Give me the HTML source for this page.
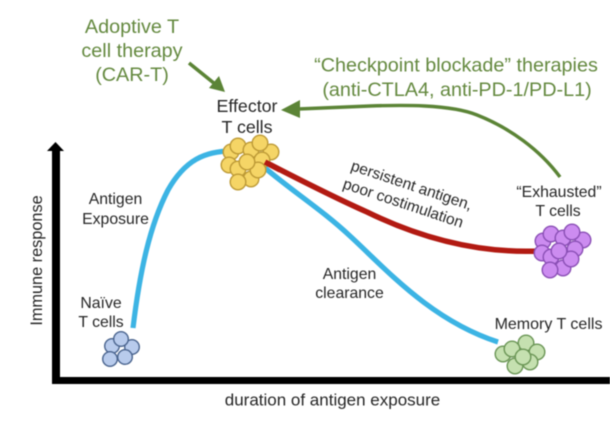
<!DOCTYPE html>
<html>
<head>
<meta charset="utf-8">
<style>
html,body{margin:0;padding:0;background:#fff;width:610px;height:437px;overflow:hidden}
svg{display:block;filter:blur(0.45px)}
text{font-family:"Liberation Sans",sans-serif;fill:#262626}
.g{fill:#64893f;font-size:19.8px}
.s{font-size:15.8px}
</style>
</head>
<body>
<svg width="610" height="437" viewBox="0 0 610 437" xmlns="http://www.w3.org/2000/svg">
<rect width="610" height="437" fill="#fff"/>

<!-- axes -->
<rect x="52" y="149" width="8" height="235" fill="#000"/>
<polygon points="55.5,142 64,151 47,151" fill="#000"/>
<rect x="52" y="377" width="558" height="7" fill="#000"/>

<!-- curves -->
<path d="M133,328 C140,270 150,225 168,190 C185,160 205,151 232,151" fill="none" stroke="#3cb4e4" stroke-width="5.2"/>
<path d="M258,162 C290,190 320,208 350,236 C385,268 430,320 498,342" fill="none" stroke="#3cb4e4" stroke-width="5.2"/>
<path d="M267,163 C300,180 340,200 367,212 C410,233 470,254 540,251" fill="none" stroke="#b21a12" stroke-width="5.5"/>

<!-- green arrows -->
<path d="M189,63 L215,84" stroke="#5b8436" stroke-width="3.6" fill="none"/>
<polygon points="225,92 209,88 219,76" fill="#5b8436"/>
<path d="M560,177 C540,150 510,128 477,115 C450,104 400,105 370,106 L298,109" stroke="#5b8436" stroke-width="3.4" fill="none"/>
<polygon points="281,110 300,100 300,118" fill="#5b8436"/>

<!-- effector cluster -->
<g fill="#f5d566" stroke="#bd9a36" stroke-width="1.4">
<circle cx="231" cy="152" r="7.8"/><circle cx="238" cy="146" r="7.8"/><circle cx="251" cy="150" r="7.8"/><circle cx="271" cy="152" r="7.8"/><circle cx="260" cy="143" r="7.8"/><circle cx="229" cy="165" r="7.8"/><circle cx="262" cy="160" r="7.8"/><circle cx="251" cy="179" r="7.8"/><circle cx="238" cy="169" r="7.8"/><circle cx="238" cy="182" r="7.8"/><circle cx="258" cy="170" r="7.8"/><circle cx="247" cy="162" r="7.8"/>
</g>
<path d="M265,162 L280,170" stroke="#b21a12" stroke-width="5.5"/>

<!-- exhausted cluster -->
<g fill="#cc8cf0" stroke="#8a4fb5" stroke-width="1.4">
<circle cx="543" cy="241" r="7.8"/><circle cx="551" cy="234" r="7.8"/><circle cx="563" cy="238" r="7.8"/><circle cx="583" cy="240" r="7.8"/><circle cx="572" cy="232" r="7.8"/><circle cx="542" cy="253" r="7.8"/><circle cx="575" cy="249" r="7.8"/><circle cx="551" cy="257" r="7.8"/><circle cx="563" cy="268" r="7.8"/><circle cx="550" cy="270" r="7.8"/><circle cx="571" cy="259" r="7.8"/><circle cx="559" cy="251" r="7.8"/>
</g>

<!-- memory cluster -->
<g fill="#c5e0b0" stroke="#6a9555" stroke-width="1.4">
<circle cx="526" cy="343" r="7.8"/><circle cx="503" cy="354" r="7.8"/><circle cx="537" cy="352" r="7.8"/><circle cx="530" cy="362" r="7.8"/><circle cx="512" cy="349" r="7.8"/><circle cx="515" cy="366" r="7.8"/><circle cx="523" cy="357" r="7.8"/>
</g>

<!-- naive cluster -->
<g fill="#b8cbec" stroke="#4a648e" stroke-width="1.4">
<circle cx="132" cy="347" r="7.3"/><circle cx="125" cy="357" r="7.3"/><circle cx="112" cy="346" r="7.3"/><circle cx="110" cy="359" r="7.3"/><circle cx="121" cy="339" r="7.3"/>
</g>

<!-- green labels -->
<text class="g" x="132" y="33" text-anchor="middle">Adoptive T</text>
<text class="g" x="132" y="57" text-anchor="middle">cell therapy</text>
<text class="g" x="132" y="81" text-anchor="middle">(CAR-T)</text>
<text class="g" x="456" y="71.5" text-anchor="middle">“Checkpoint blockade” therapies</text>
<text class="g" x="457" y="96" text-anchor="middle">(anti-CTLA4, anti-PD-1/PD-L1)</text>

<!-- black labels -->
<text x="247" y="112" text-anchor="middle" font-size="17.8">Effector</text>
<text x="247" y="133" text-anchor="middle" font-size="17.8">T cells</text>
<text class="s" x="115.5" y="204" text-anchor="middle">Antigen</text>
<text class="s" x="115.5" y="224" text-anchor="middle">Exposure</text>
<text class="s" x="101" y="308" text-anchor="middle">Naïve</text>
<text class="s" x="101" y="327" text-anchor="middle">T cells</text>
<text class="s" x="349.5" y="279" text-anchor="middle">Antigen</text>
<text class="s" x="349.5" y="298" text-anchor="middle">clearance</text>
<text x="548.5" y="329" text-anchor="middle" font-size="16">Memory T cells</text>
<text class="s" x="559" y="197" text-anchor="middle">“Exhausted”</text>
<text class="s" x="558" y="216" text-anchor="middle">T cells</text>
<text font-size="15.5" transform="translate(350,170) rotate(18.5)">persistent antigen,</text>
<text font-size="15.5" transform="translate(342,188) rotate(18.5)">poor costimulation</text>
<text x="332.5" y="405.5" text-anchor="middle" font-size="17">duration of antigen exposure</text>
<text font-size="16.3" transform="translate(42,260.5) rotate(-90)" text-anchor="middle">Immune response</text>
</svg>
</body>
</html>
